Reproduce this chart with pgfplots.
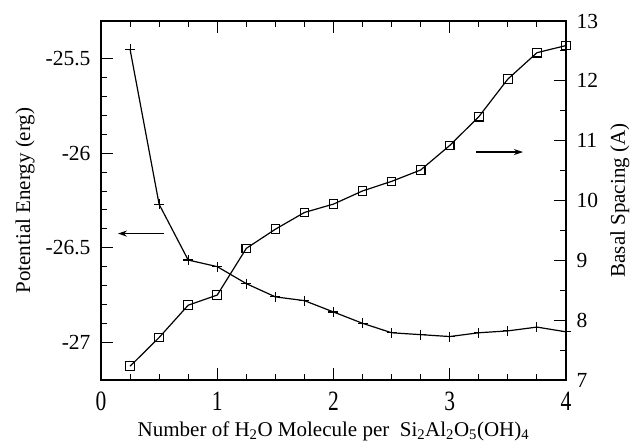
\documentclass[border=0pt]{standalone}
\usepackage{fontspec}
\setmainfont{Liberation Serif}
\usepackage{pgfplots}
\pgfplotsset{compat=1.18}
\usetikzlibrary{arrows.meta}

\pgfplotsset{
  twinaxis/.style={
    at={(0pt,0pt)}, anchor=south west,
    scale only axis, width=465pt, height=359pt,
    xmin=0, xmax=4,
    axis line style={line width=1.2pt},
    every tick/.style={black, line width=1pt},
    major tick length=12pt, minor tick length=6pt,
    tick align=inside,
    tick label style={font=\fontsize{21.5}{24}\selectfont},
    label style={font=\fontsize{21}{24}\selectfont},
  },
}

\begin{document}
\begin{tikzpicture}
  \path[use as bounding box] (-101pt,-65pt) rectangle (532pt,380pt);

  % energie (axe de gauche)
  \begin{axis}[twinaxis,
    ymin=-27.2, ymax=-25.3,
    xtick={0,1,2,3,4}, xticklabels={0,1,2,3,4},
    minor x tick num=3, xtick pos=both, xticklabel pos=bottom,
    xticklabel style={yscale=1.3, yshift=-6pt},
    ytick={-27,-26.5,-26,-25.5}, yticklabels={-27,-26.5,-26,-25.5},
    minor y tick num=4, ytick pos=left,
    yticklabel style={xshift=-7pt},
    xlabel={Number of H\textsubscript{2}O Molecule per\ \ Si\textsubscript{2}Al\textsubscript{2}O\textsubscript{5}(OH)\textsubscript{4}},
    x label style={at={(axis description cs:0.5,-0.156)}, anchor=base},
    ylabel={Potential Energy (erg)},
    y label style={at={(axis description cs:-0.163,0.5)}, anchor=center},
  ]
    \addplot[black, line width=1.2pt, mark=+, mark size=5pt,
             mark options={line width=1.1pt}] coordinates {
      (0.25,-25.45) (0.5,-26.27) (0.75,-26.565) (1.0,-26.60)
      (1.25,-26.69) (1.5,-26.76) (1.75,-26.78) (2.0,-26.84)
      (2.25,-26.90) (2.5,-26.95) (2.75,-26.96) (3.0,-26.97)
      (3.25,-26.95) (3.5,-26.94) (3.75,-26.92) (4.0,-26.945)
    };
    \draw[line width=1.1pt, -{Stealth[length=9pt,width=6pt]}]
      (axis cs:0.54,-26.425) -- (axis cs:0.146,-26.425);
  \end{axis}

  % espacement basal (axe de droite)
  \begin{axis}[twinaxis,
    ymin=7, ymax=13,
    xtick=\empty,
    ytick={7,...,13}, yticklabels={7,8,9,10,11,12,13},
    minor y tick num=1, ytick pos=right, yticklabel pos=right,
    yticklabel style={xshift=7pt},
    ylabel={Basal Spacing (A)},
    y label style={at={(axis description cs:1.116,0.5)}, anchor=center, rotate=0},
  ]
    \addplot[black, line width=1.2pt, mark=square, mark size=4.3pt,
             mark options={line width=1.1pt}] coordinates {
      (0.25,7.23) (0.5,7.71) (0.75,8.25) (1.0,8.42)
      (1.25,9.20) (1.5,9.52) (1.75,9.80) (2.0,9.94)
      (2.25,10.16) (2.5,10.32) (2.75,10.51) (3.0,10.92)
      (3.25,11.40) (3.5,12.03) (3.75,12.47) (4.0,12.59)
    };
    \draw[line width=1.1pt, -{Stealth[length=9pt,width=6pt]}]
      (axis cs:3.23,10.81) -- (axis cs:3.63,10.81);
  \end{axis}
\end{tikzpicture}
\end{document}
